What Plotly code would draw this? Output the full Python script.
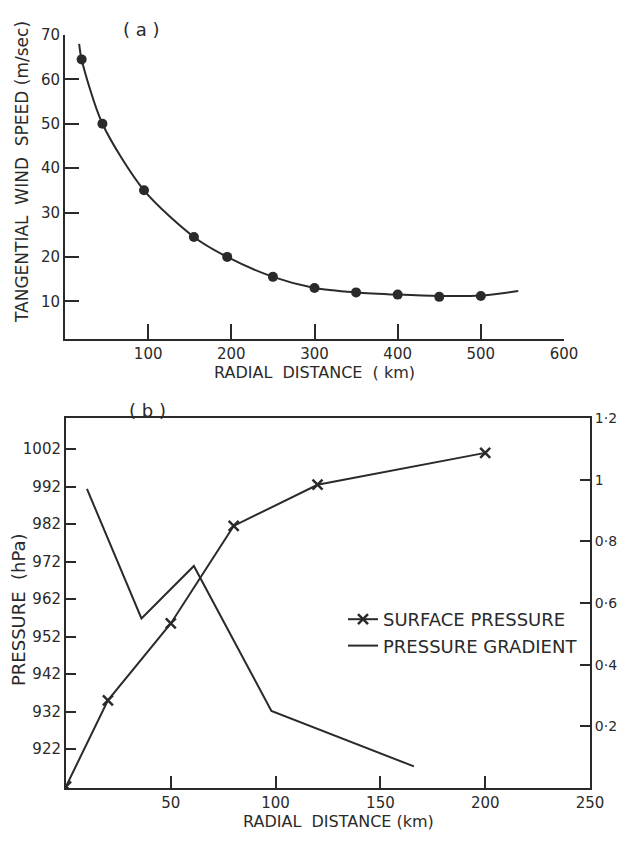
import plotly.graph_objects as go

# ---------------- Panel (a): tangential wind speed ----------------
wind_dist_km = [20, 45, 95, 155, 195, 250, 300, 350, 400, 450, 500]
wind_speed = [64.5, 50, 35, 24.5, 20, 15.5, 13, 12, 11.5, 11, 11.2]
# smooth fitted curve (drawn through the points, slightly extended)
curve_dist_km = [17, 20, 45, 95, 155, 195, 250, 300, 350, 400, 450, 500, 545]
curve_speed = [68, 64.5, 50, 35, 24.5, 20, 15.5, 13, 12, 11.5, 11.2, 11.3, 12.3]
wind_xticks = [100, 200, 300, 400, 500, 600]
wind_yticks = [10, 20, 30, 40, 50, 60, 70]

# ---------------- Panel (b): pressure ----------------
sp_dist_km = [0, 20, 50, 80, 120, 200]
surface_pressure = [912, 935, 955.5, 981.5, 992.5, 1001]
pg_dist_km = [10, 36, 61, 98, 166]
pressure_gradient = [0.97, 0.55, 0.72, 0.25, 0.07]
p_xticks = [50, 100, 150, 200, 250]
p_yticks = [922, 932, 942, 952, 962, 972, 982, 992, 1002]
g_yticks = [0.2, 0.4, 0.6, 0.8, 1.0, 1.2]
g_yticktext = ["0·2", "0·4", "0·6", "0·8", "1", "1·2"]

INK = "#2a2a2a"
FONT = "DejaVu Sans"

# page body keeps its default 8px margin: size the figure to fit inside it
W, H, OFF = 610, 825, 8


def px(X):
    return (X - OFF) / W


def py(Y):
    return 1 - (Y - OFF) / H


fig = go.Figure()

fig.add_trace(go.Scatter(
    x=curve_dist_km, y=curve_speed, mode="lines",
    line=dict(color=INK, width=2, shape="spline", smoothing=0.8),
    xaxis="x", yaxis="y", showlegend=False, hoverinfo="skip"))
fig.add_trace(go.Scatter(
    x=wind_dist_km, y=wind_speed, mode="markers",
    marker=dict(color=INK, size=10, symbol="circle"),
    xaxis="x", yaxis="y", showlegend=False))

fig.add_trace(go.Scatter(
    x=sp_dist_km, y=surface_pressure, mode="lines+markers",
    name="SURFACE PRESSURE",
    line=dict(color=INK, width=2),
    marker=dict(symbol="x-thin", size=10, line=dict(color=INK, width=2.5)),
    xaxis="x2", yaxis="y2"))
fig.add_trace(go.Scatter(
    x=pg_dist_km, y=pressure_gradient, mode="lines",
    name="PRESSURE GRADIENT",
    line=dict(color=INK, width=2),
    xaxis="x2", yaxis="y3"))

axis_common = dict(showline=True, linecolor=INK, linewidth=2, showgrid=False,
                   zeroline=False, ticks="inside", tickcolor=INK, tickwidth=2,
                   automargin=False,
                   tickfont=dict(family=FONT, size=15, color=INK))

fig.update_layout(
    width=W, height=H,
    margin=dict(l=0, r=0, t=0, b=0, autoexpand=False),
    paper_bgcolor="white", plot_bgcolor="white",
    font=dict(family=FONT, color=INK),
    xaxis=dict(axis_common, domain=[px(65), px(564)], range=[0, 600],
               tickvals=wind_xticks, ticklen=15, anchor="y",
               title=dict(text="RADIAL  DISTANCE  ( km)",
                          font=dict(family=FONT, size=16, color=INK), standoff=3)),
    yaxis=dict(axis_common, domain=[py(339), py(35)], range=[1.5, 70],
               tickvals=wind_yticks, ticklen=14, anchor="x"),
    xaxis2=dict(axis_common, domain=[px(66), px(590)], range=[0, 250],
                tickvals=p_xticks, ticklen=12, anchor="y2", mirror=True),
    yaxis2=dict(axis_common, domain=[py(788), py(418)], range=[911.6, 1010.3],
                tickvals=p_yticks, ticklen=10, anchor="x2"),
    yaxis3=dict(axis_common, range=[0, 1.2], overlaying="y2", side="right",
                anchor="x2", tickvals=g_yticks, ticktext=g_yticktext, ticklen=10,
                tickfont=dict(family=FONT, size=14, color=INK)),
    legend=dict(x=px(343), y=py(601), xanchor="left", yanchor="top",
                bgcolor="rgba(0,0,0,0)", tracegroupgap=0,
                font=dict(family=FONT, size=18, color=INK)),
    annotations=[
        dict(text="( a )", x=px(141), y=py(30), xref="paper", yref="paper",
             xanchor="center", yanchor="middle",
             showarrow=False, font=dict(family=FONT, size=18, color=INK)),
        dict(text="( b )", x=px(147), y=py(410), xref="paper", yref="paper",
             xanchor="center", yanchor="middle",
             showarrow=False, font=dict(family=FONT, size=18, color=INK)),
        dict(text="TANGENTIAL  WIND  SPEED (m/sec)", textangle=-90,
             x=px(22), y=py(172), xref="paper", yref="paper",
             xanchor="center", yanchor="middle",
             showarrow=False, font=dict(family=FONT, size=17, color=INK)),
        dict(text="PRESSURE  (hPa)", textangle=-90,
             x=px(18), y=py(610), xref="paper", yref="paper",
             xanchor="center", yanchor="middle",
             showarrow=False, font=dict(family=FONT, size=18, color=INK)),
        dict(text="RADIAL  DISTANCE (km)",
             x=px(338), y=py(821), xref="paper", yref="paper",
             xanchor="center", yanchor="middle",
             showarrow=False, font=dict(family=FONT, size=16, color=INK)),
    ],
)

fig.write_html("out.html")
